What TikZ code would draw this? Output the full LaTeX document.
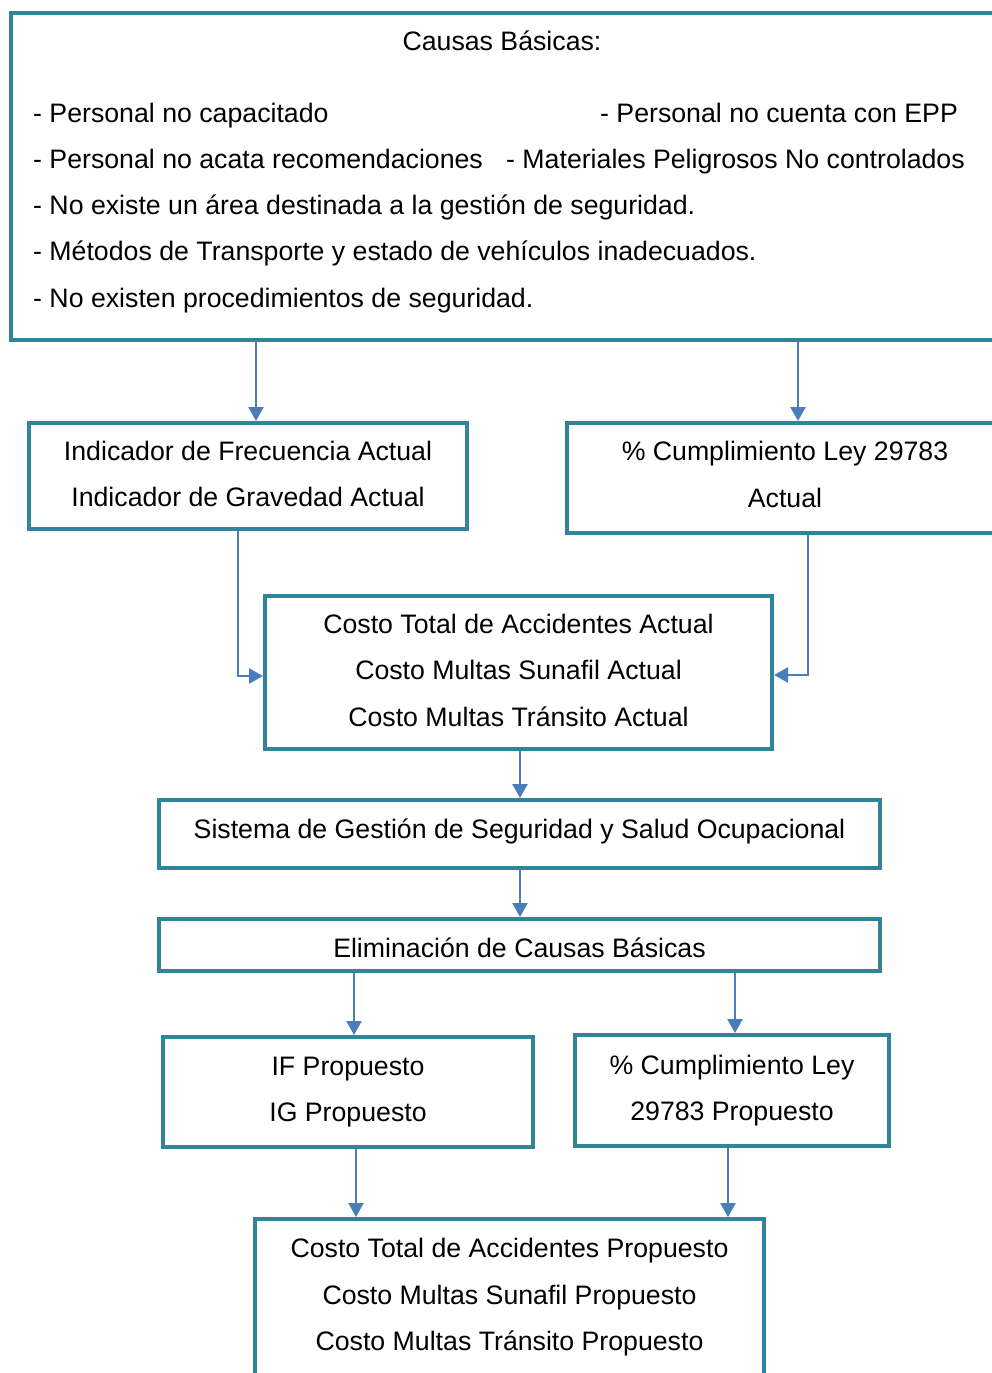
\documentclass[tikz,border=0pt]{standalone}
\usepackage{fontspec}
\setmainfont{Liberation Sans}
\usetikzlibrary{arrows.meta}
\definecolor{frame}{RGB}{49,133,155}
\definecolor{link}{RGB}{74,126,187}
\begin{document}
\begin{tikzpicture}[x=1pt,y=-1pt,
  box/.style={draw=frame,line width=4pt,rectangle,inner sep=0pt},
  boxtext/.style={inner sep=0pt,align=center,font=\fontsize{26.7}{46.5}\selectfont},
  txt/.style={inner sep=0pt,anchor=base west,font=\fontsize{26.7}{32}\selectfont},
  arr/.style={draw=link,line width=2.5pt,-{Triangle[width=15pt,length=14pt]}}]
\useasboundingbox (0,0) rectangle (992,1373);
\fill[white] (0,0) rectangle (992,1373);
\clip (0,0) rectangle (992,1373);

% top box with the basic causes
\node[box,minimum width=985,minimum height=327] (causas) at (503.5,176.5) {};
\node[txt,anchor=base] (c0) at (502,50) {Causas Básicas:};
\node[txt] (c1) at (33,122) {- Personal no capacitado};
\node[txt] (c2) at (600,122) {- Personal no cuenta con EPP};
\node[txt] (c3) at (33,168) {- Personal no acata recomendaciones};
\node[txt] (c4) at (506,168) {- Materiales Peligrosos No controlados};
\node[txt] (c5) at (33,214) {- No existe un área destinada a la gestión de seguridad.};
\node[txt] (c6) at (33,260) {- Métodos de Transporte y estado de vehículos inadecuados.};
\node[txt] (c7) at (33,307) {- No existen procedimientos de seguridad.};

% current indicators
\node[box,minimum width=438,minimum height=106] (ind) at (248,476) {};
\node[boxtext] (indt) at ([yshift=2pt]ind.center)
  {Indicador de Frecuencia Actual\\Indicador de Gravedad Actual};
\node[box,minimum width=436,minimum height=110] (ley) at (785,478) {};
\node[boxtext] (leyt) at ([yshift=3.5pt]ley.center)
  {\% Cumplimiento Ley 29783\\Actual};

% current costs
\node[box,minimum width=507,minimum height=153] (costo) at (518.5,672.5) {};
\node[boxtext] (costot) at ([yshift=2.5pt]costo.center)
  {Costo Total de Accidentes Actual\\Costo Multas Sunafil Actual\\Costo Multas Tránsito Actual};

% management system and elimination
\node[box,minimum width=721,minimum height=68] (sgsso) at (519.5,834) {};
\node[boxtext] (sgssot) at ([yshift=3pt]sgsso.center)
  {Sistema de Gestión de Seguridad y Salud Ocupacional};
\node[box,minimum width=721,minimum height=52] (elim) at (519.5,945) {};
\node[boxtext] (elimt) at ([yshift=-3pt]elim.center)
  {Eliminación de Causas Básicas};

% proposed indicators
\node[box,minimum width=370,minimum height=110] (ifig) at (348,1092) {};
\node[boxtext] (ifigt) at (ifig.center) {IF Propuesto\\IG Propuesto};
\node[box,minimum width=314,minimum height=111] (leyp) at (732,1090.5) {};
\node[boxtext] (leypt) at (leyp.center) {\% Cumplimiento Ley\\29783 Propuesto};

% proposed costs
\node[box,minimum width=509,minimum height=157] (costop) at (509.5,1297.5) {};
\node[boxtext] (costopt) at (costop.center)
  {Costo Total de Accidentes Propuesto\\Costo Multas Sunafil Propuesto\\Costo Multas Tránsito Propuesto};

% connectors
\draw[arr] ([xshift=8pt]ind.north |- causas.south) -- ([xshift=8pt]ind.north);
\draw[arr] ([xshift=13pt]ley.north |- causas.south) -- ([xshift=13pt]ley.north);
\draw[arr] ([xshift=-10pt]ind.south) |- ([yshift=-3.5pt]costo.west);
\draw[arr] ([xshift=23pt]ley.south) |- ([yshift=-2.5pt]costo.east);
\draw[arr] ([xshift=1.5pt]costo.south) -- ([xshift=1.5pt]costo.south |- sgsso.north);
\draw[arr] ([xshift=0.5pt]sgsso.south) -- ([xshift=0.5pt]elim.north);
\draw[arr] ([xshift=6pt]ifig.north |- elim.south) -- ([xshift=6pt]ifig.north);
\draw[arr] ([xshift=3pt]leyp.north |- elim.south) -- ([xshift=3pt]leyp.north);
\draw[arr] ([xshift=8pt]ifig.south) -- ([xshift=8pt]ifig.south |- costop.north);
\draw[arr] ([xshift=-4pt]leyp.south) -- ([xshift=-4pt]leyp.south |- costop.north);
\end{tikzpicture}
\end{document}
